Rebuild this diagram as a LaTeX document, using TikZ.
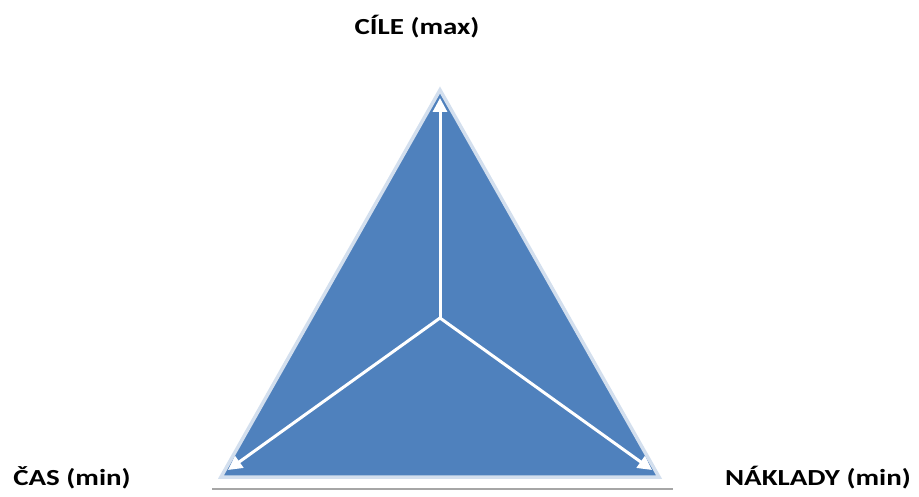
\documentclass[tikz,border=0pt]{standalone}
\usepackage{fontspec}
\setmainfont{Carlito}[FakeStretch=1.26]
\usetikzlibrary{arrows.meta}
\definecolor{plocha}{HTML}{4F81BD}
\definecolor{okraj}{HTML}{D3DFEE}
\definecolor{stin}{HTML}{A6A6A6}
\tikzset{
    % --- styly ---
    popisek/.style={font=\fontsize{23}{26}\selectfont\bfseries, inner sep=0pt, anchor=base},
    trojuhelnik/.style={fill=plocha, draw=okraj, line width=3.5pt, line join=miter},
    sipka/.style={draw=white, line width=3pt, -{Triangle[length=14pt,width=14pt]}},
    podstava/.style={draw=stin, line width=2.5pt}
}

\begin{document}
\begin{tikzpicture}[x=1pt,y=-1pt]
    \useasboundingbox (0,0) rectangle (919,497);

    \coordinate (vrchol) at (440,90);
    \coordinate (levy)   at (221,477);
    \coordinate (pravy)  at (659,477);
    \coordinate (stred)  at (440,318);

    \draw[podstava] (212,489) -- (673,489);
    \filldraw[trojuhelnik] (vrchol) -- (pravy) -- (levy) -- cycle;

    \coordinate (hrot_c) at (440,98);
    \coordinate (hrot_l) at (228,470);
    \coordinate (hrot_p) at (652,470);

    \draw[sipka] (stred) -- (hrot_c);
    \draw[sipka] (stred) -- (hrot_l);
    \draw[sipka] (stred) -- (hrot_p);

    \node[popisek] (cile)    at (417,35)  {CÍLE (max)};
    \node[popisek] (cas)     at (72,485)  {ČAS (min)};
    \node[popisek] (naklady) at (818,485) {NÁKLADY (min)};
\end{tikzpicture}
\end{document}
